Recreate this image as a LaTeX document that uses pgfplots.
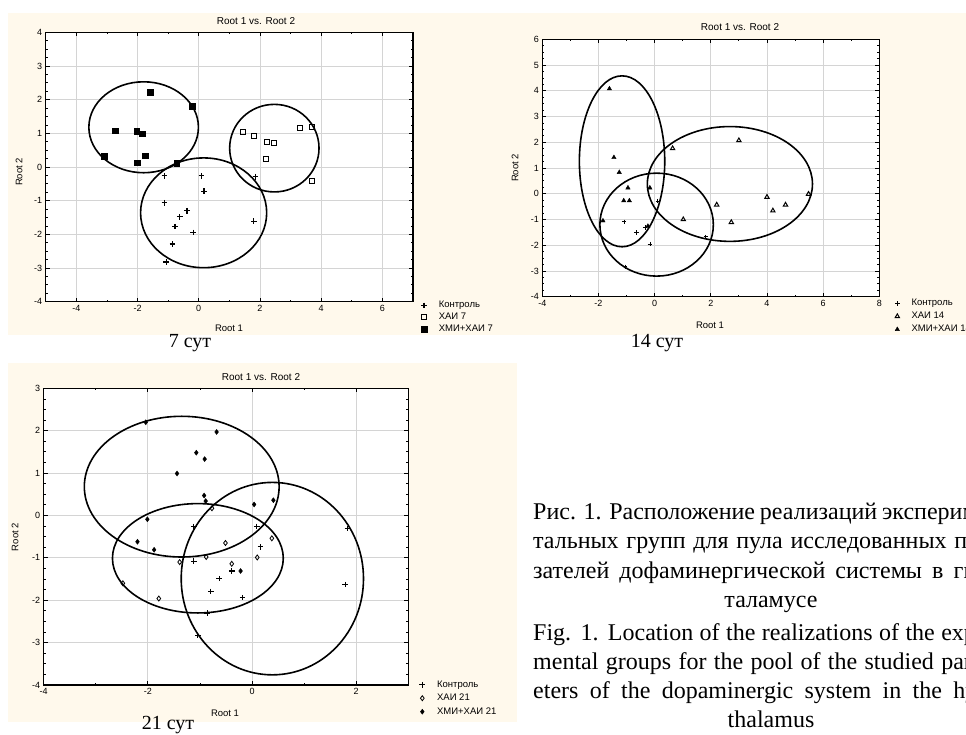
\documentclass[border=0pt]{standalone}
\usepackage{pgfplots}
\pgfplotsset{compat=1.18}
\usepackage{fontspec}
\setmainfont{Liberation Serif}
\setsansfont{Liberation Sans}
\definecolor{panelbg}{RGB}{255,249,236}
\definecolor{gridc}{RGB}{212,212,212}
\newcommand{\cf}{\sffamily\fontsize{9.5pt}{11pt}\selectfont}
\newcommand{\tf}{\sffamily\fontsize{9pt}{10pt}\selectfont}
\newcommand{\sutf}{\rmfamily\fontsize{20pt}{22pt}\selectfont}
\newcommand{\capf}{\rmfamily\fontsize{24pt}{28pt}\selectfont}
\tikzset{ell/.style={line width=1.6pt, black}}
\pgfplotsset{
  panel/.style={
    scale only axis,
    axis background/.style={fill=white},
    axis line style={line width=1.2pt},
    grid=major,
    major grid style={gridc, line width=0.9pt},
    tick align=inside,
    major tick length=4pt, minor tick length=2pt,
    tick style={black, line width=0.8pt},
    minor x tick num=1, minor y tick num=3,
    tick label style={font=\tf},
    legend cell align=left,
    legend style={draw=none, fill=none, font=\cf, inner sep=0pt, anchor=north west,
      nodes={inner sep=1pt, text height=7pt, text depth=2pt},
      /tikz/every odd column/.append style={column sep=11pt}},
  },
}
\begin{document}
\begin{tikzpicture}[x=1pt,y=-1pt]
\path[use as bounding box] (0,0) rectangle (966,734);
\clip (0,0) rectangle (966,734);
\fill[panelbg] (8,13) rectangle (500,335);
\fill[panelbg] (497,13) rectangle (990,335);
\fill[panelbg] (8,363) rectangle (517,722);

% ---------------- Panel 1 (7 days)
\begin{axis}[panel, at={(45.7pt,-301.7pt)}, anchor=south west,
  width=367.3pt, height=269.4pt,
  xmin=-5, xmax=7, ymin=-4, ymax=4,
  xtick={-4,-2,0,2,4,6}, xticklabels={-4,-2,0,2,4,6},
  ytick={-4,-3,-2,-1,0,1,2,3,4}, yticklabels={-4,-3,-2,-1,0,1,2,3,4},
  legend style={at={(1,0)}, xshift=8pt, yshift=2pt, row sep=1pt}]
\draw[ell] (axis cs:-1.80,1.18) ellipse [x radius=1.79, y radius=1.35];
\draw[ell] (axis cs:2.47,0.56) ellipse [x radius=1.46, y radius=1.30];
\draw[ell] (axis cs:0.16,-1.36) ellipse [x radius=2.06, y radius=1.63];
\addplot[only marks, black, mark=+, mark size=2.8pt, line width=1.3pt] coordinates {
 (-1.12,-0.26) (0.09,-0.26) (1.85,-0.29) (0.17,-0.72) (-1.12,-1.06) (-0.38,-1.30)
 (-0.62,-1.48) (-0.78,-1.77) (-0.18,-1.94) (1.80,-1.61) (-0.86,-2.29) (-1.06,-2.82)};
\addlegendentry{Контроль}
\addplot[only marks, black, mark=square, mark size=2.5pt, line width=0.9pt] coordinates {
 (1.44,1.04) (1.81,0.93) (2.24,0.75) (2.46,0.71) (3.31,1.16) (3.70,1.19) (2.21,0.25) (3.69,-0.41)};
\addlegendentry{ХАИ 7}
\addplot[only marks, black, mark=square*, mark size=2.8pt] coordinates {
 (-1.58,2.22) (-0.22,1.80) (-2.73,1.08) (-2.03,1.07) (-1.84,0.99) (-3.09,0.32)
 (-1.74,0.33) (-2.02,0.13) (-0.72,0.12)};
\addlegendentry{ХМИ+ХАИ 7}
\end{axis}
\node[font=\cf\fontsize{10pt}{12pt}\selectfont] at (256,20.7) {Root 1 vs. Root 2};
\node[font=\cf] at (229,328) {Root 1};
\node[font=\cf, rotate=90] at (19,172) {Root 2};
\node[font=\sutf] at (190,343) {7 сут};

% ---------------- Panel 2 (14 days)
\begin{axis}[panel, at={(542.3pt,-296.7pt)}, anchor=south west,
  width=337pt, height=257.4pt,
  xmin=-4, xmax=8, ymin=-4, ymax=6,
  xtick={-4,-2,0,2,4,6,8}, xticklabels={-4,-2,0,2,4,6,8},
  ytick={-4,-3,-2,-1,0,1,2,3,4,5,6}, yticklabels={-4,-3,-2,-1,0,1,2,3,4,5,6},
  legend style={at={(1,0)}, xshift=15.6pt, yshift=-1pt, row sep=2pt}]
\draw[ell] (axis cs:-1.16,1.26) ellipse [x radius=1.52, y radius=3.32];
\draw[ell] (axis cs:0.07,-1.20) ellipse [x radius=2.02, y radius=2.0];
\draw[ell] (axis cs:2.68,0.38) ellipse [x radius=2.94, y radius=2.23];
\addplot[only marks, black, mark=+, mark size=2.2pt, line width=0.7pt] coordinates {
 (0.11,-0.28) (-1.09,-1.09) (-0.64,-1.50) (-0.34,-1.31) (1.82,-1.67) (-0.17,-1.96) (-1.06,-2.84)};
\addlegendentry{Контроль}
\addplot[only marks, black, mark=triangle, mark size=2.5pt, line width=1pt] coordinates {
 (0.64,1.76) (3.00,2.07) (2.21,-0.43) (1.02,-1.00) (2.73,-1.11) (4.00,-0.13)
 (4.21,-0.66) (4.66,-0.43) (5.48,-0.01)};
\addlegendentry{ХАИ 14}
\addplot[only marks, black, mark=triangle*, mark size=2.5pt] coordinates {
 (-1.61,4.08) (-1.45,1.41) (-1.26,0.83) (-0.95,0.23) (-0.17,0.23) (-1.10,-0.27)
 (-0.90,-0.27) (-1.84,-1.05) (-0.24,-1.26)};
\addlegendentry{ХМИ+ХАИ 14}
\end{axis}
\node[font=\cf\fontsize{10pt}{12pt}\selectfont] at (740,26.7) {Root 1 vs. Root 2};
\node[font=\cf] at (710,325.7) {Root 1};
\node[font=\cf, rotate=90] at (515,168) {Root 2};
\node[font=\sutf] at (657,343) {14 сут};

% ---------------- Panel 3 (21 days)
\begin{axis}[panel, at={(43.7pt,-685pt)}, anchor=south west,
  width=364.6pt, height=296.7pt,
  xmin=-4, xmax=3, ymin=-4, ymax=3,
  xtick={-4,-2,0,2}, xticklabels={-4,-2,0,2},
  ytick={-4,-3,-2,-1,0,1,2,3}, yticklabels={-4,-3,-2,-1,0,1,2,3},
  legend style={at={(1,0)}, xshift=11pt, yshift=6pt, row sep=2.5pt}]
\draw[ell] (axis cs:-1.35,0.68) ellipse [x radius=1.87, y radius=1.66];
\draw[ell] (axis cs:-1.04,-1.01) ellipse [x radius=1.64, y radius=1.29];
\draw[ell] (axis cs:0.39,-1.49) ellipse [x radius=1.75, y radius=2.27];
\addplot[only marks, black, mark=+, mark size=2.8pt, line width=1.2pt] coordinates {
 (-1.12,-0.26) (0.09,-0.26) (1.83,-0.31) (0.16,-0.74) (-1.12,-1.08) (-0.39,-1.31)
 (-0.63,-1.49) (-0.79,-1.79) (-0.18,-1.94) (1.79,-1.63) (-0.86,-2.30) (-1.04,-2.83)};
\addlegendentry{Контроль}
\addplot[only marks, black, mark=diamond, mark size=2.5pt, line width=0.8pt] coordinates {
 (-0.77,0.17) (-0.51,-0.65) (0.38,-0.54) (-1.39,-1.10) (-0.88,-0.98) (-0.39,-1.14)
 (0.10,-0.99) (-2.48,-1.60) (-1.79,-1.96)};
\addlegendentry{ХАИ 21}
\addplot[only marks, black, mark=diamond*, mark size=2.5pt] coordinates {
 (-2.04,2.20) (-0.68,1.97) (-1.07,1.48) (-0.91,1.33) (-1.44,0.99) (-0.92,0.47)
 (-0.89,0.34) (0.04,0.26) (0.41,0.36) (-2.01,-0.09) (-2.20,-0.62) (-1.88,-0.81) (-0.22,-1.31)};
\addlegendentry{ХМИ+ХАИ 21}
\end{axis}
\node[font=\cf\fontsize{10pt}{12pt}\selectfont] at (261,376.7) {Root 1 vs. Root 2};
\node[font=\cf] at (225,713) {Root 1};
\node[font=\cf, rotate=90] at (15,537) {Root 2};
\node[font=\sutf] at (168,725) {21 сут};

% ---------------- Caption
\begin{scope}[every node/.style={font=\capf, inner sep=0pt}]
\node[anchor=base west] at (533,519) {\hbox to 476pt{Рис. 1. Расположение реализаций эксперимен-}};
\node[anchor=base west] at (533,548) {\hbox to 476pt{тальных групп для пула исследованных пока-}};
\node[anchor=base west] at (533,578) {\hbox to 476pt{зателей дофаминергической системы в гипо-}};
\node[anchor=base] at (771,607) {таламусе};
\node[anchor=base west] at (533,640) {\hbox to 476pt{Fig. 1. Location of the realizations of the experi-}};
\node[anchor=base west] at (533,669) {\hbox to 476pt{mental groups for the pool of the studied param-}};
\node[anchor=base west] at (533,698) {\hbox to 476pt{eters of the dopaminergic system in the hypo-}};
\node[anchor=base] at (771,727) {thalamus};
\end{scope}
\end{tikzpicture}
\end{document}
